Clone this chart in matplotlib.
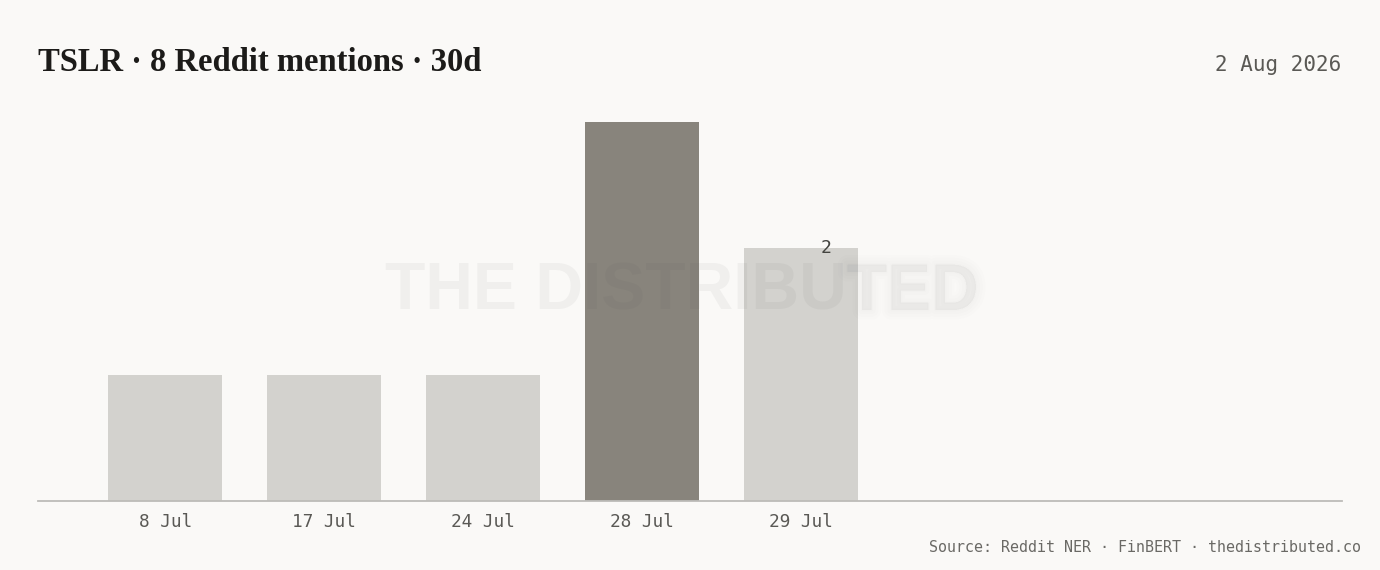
"""Bar chart of daily Reddit mentions for one ticker, with a faint watermark."""

import matplotlib
matplotlib.use("Agg")
import matplotlib.pyplot as plt
import matplotlib.patheffects as pe


# data
days = ["8 Jul", "17 Jul", "24 Jul", "28 Jul", "29 Jul"]
mentions = [1, 1, 1, 3, 2]
value_labels = [None, None, None, None, "2"]

title = "TSLR \u00b7 8 Reddit mentions \u00b7 30d"
date_text = "2 Aug 2026"
source_text = "Source: Reddit NER \u00b7 FinBERT \u00b7 thedistributed.co"
watermark_sharp = "THE DISTRIBU"
watermark_soft = "TED"

BG = "#faf9f7"
BAR = "#d3d2ce"
BAR_HI = "#88847c"
INK = "#1c1b19"
MUTED = "#5a5955"
WM = "#474747"
MONO = ["DejaVu Sans Mono"]

W, H = 1380, 570


def fx(px):
    return px / W


def fy(py):
    return 1 - py / H


fig = plt.figure(figsize=(W / 100, H / 100), dpi=100, facecolor=BG)
ax = fig.add_axes([fx(38), fy(501), fx(1342) - fx(38), fy(122) - fy(501)])
ax.set_facecolor(BG)

x = list(range(len(days)))
top = max(mentions)
colors = [BAR_HI if v == top else BAR for v in mentions]
ax.bar(x, mentions, width=0.717, color=colors, zorder=2)

for xi, v, lab in zip(x, mentions, value_labels):
    if lab:
        ax.text(xi + 0.155, v, lab, ha="center", va="center",
                fontsize=13, color="#444440", family=MONO, zorder=4)

ax.set_xlim(-0.8, 7.4)
ax.set_ylim(0, 3)
ax.set_xticks(x)
ax.set_xticklabels(days, family=MONO, fontsize=12.8, color=MUTED)
ax.tick_params(axis="x", length=0, pad=8.5)
ax.set_yticks([])
for side in ["left", "right", "top"]:
    ax.spines[side].set_visible(False)
ax.spines["bottom"].set_color("#bdbcb8")
ax.spines["bottom"].set_linewidth(1.3)

# watermark: crisp start, smeared tail (soft strokes fake a blur)
wm_style = dict(va="baseline", family="Liberation Sans", fontweight="bold",
                fontsize=47.5, color=WM, zorder=5)
sharp = fig.text(fx(385), fy(310), watermark_sharp, ha="left", alpha=0.055, **wm_style)
renderer = fig.canvas.get_renderer()
right_edge = sharp.get_window_extent(renderer).x1
soft = fig.text(right_edge / W, fy(310), watermark_soft, ha="left", alpha=0.012, **wm_style)
soft.set_path_effects([
    pe.Stroke(linewidth=14, foreground=WM, alpha=0.006),
    pe.Stroke(linewidth=10, foreground=WM, alpha=0.007),
    pe.Stroke(linewidth=6, foreground=WM, alpha=0.008),
    pe.Stroke(linewidth=2, foreground=WM, alpha=0.008),
    pe.Normal(),
])

fig.text(fx(38), fy(71), title, ha="left", va="baseline",
         family="Liberation Serif", fontweight="bold", fontsize=23.5, color=INK)
fig.text(fx(1341), fy(71), date_text, ha="right", va="baseline",
         family=MONO, fontsize=15, color=MUTED)
fig.text(fx(1361), fy(552), source_text, ha="right", va="baseline",
         family=MONO, fontsize=10.8, color="#6a6965")

fig.savefig("out.png", dpi=100, facecolor=BG)
